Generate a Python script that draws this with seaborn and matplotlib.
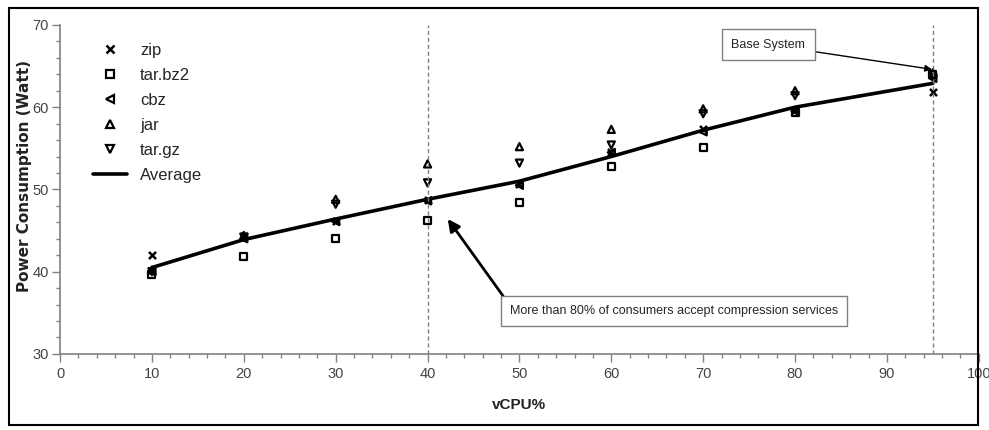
import numpy as np
import pandas as pd
import matplotlib.pyplot as plt
import seaborn as sns
from matplotlib import font_manager
from matplotlib.patches import Rectangle
from matplotlib.lines import Line2D

vcpu = [10, 20, 30, 40, 50, 60, 70, 80, 95]
zip_w = [42.0, 44.3, 46.2, 48.7, 50.6, 54.6, 57.3, 59.6, 61.8]
tar_bz2 = [39.6, 41.8, 44.0, 46.2, 48.4, 52.8, 55.1, 59.3, 64.0]
cbz = [40.0, 44.0, 46.1, 48.6, 50.5, 54.5, 57.0, 59.5, 63.5]
jar = [40.2, 44.4, 48.8, 53.1, 55.2, 57.3, 59.8, 62.0, 64.2]
tar_gz = [40.0, 44.2, 48.2, 50.8, 53.2, 55.4, 59.2, 61.4, 63.6]
average = [40.5, 43.9, 46.4, 48.8, 51.0, 54.0, 57.2, 60.0, 62.9]

series = {"zip": zip_w, "tar.bz2": tar_bz2, "cbz": cbz, "jar": jar, "tar.gz": tar_gz}
marker_map = {"zip": "x", "tar.bz2": "s", "cbz": "<", "jar": "^", "tar.gz": "v"}

rows = []
for name, vals in series.items():
    for x, y in zip(vcpu, vals):
        rows.append({"vcpu": x, "power": y, "format": name})
df = pd.DataFrame(rows)

sns.set_style("white")
installed = {f.name for f in font_manager.fontManager.ttflist}
if "Liberation Sans Narrow" in installed:
    plt.rcParams["font.family"] = ["Liberation Sans Narrow", "DejaVu Sans"]
    fs = 10.5
else:
    plt.rcParams["font.family"] = ["Liberation Sans", "DejaVu Sans"]
    fs = 9

fig = plt.figure(figsize=(9.89, 4.3), dpi=100)
ax = fig.add_axes([0.0607, 0.177, 0.929, 0.765])

handles = []
for name in series:
    sub = df[df["format"] == name]
    m = marker_map[name]
    if m == "x":
        sns.scatterplot(data=sub, x="vcpu", y="power", marker="x", color="black",
                        s=26, linewidth=1.8, ax=ax)
        handles.append(Line2D([], [], marker="x", ls="", color="black", ms=5.5, mew=1.8))
    else:
        sns.scatterplot(data=sub, x="vcpu", y="power", marker=m, facecolors="none",
                        edgecolor="black", s=26, linewidth=1.6, ax=ax)
        handles.append(Line2D([], [], marker=m, ls="", mfc="none", mec="black", ms=5.5, mew=1.6))

sns.lineplot(x=vcpu, y=average, color="black", linewidth=2.6, ax=ax)
handles.append(Line2D([], [], color="black", lw=2.6))
labels = list(series.keys()) + ["Average"]

ax.legend(handles, labels, loc="upper left", bbox_to_anchor=(0.02, 0.99), frameon=False,
          fontsize=fs + 3, handlelength=2.0, handletextpad=0.8, labelspacing=0.6)

ax.axvline(40, color="gray", ls=(0, (3, 2)), lw=1)
ax.axvline(95, color="gray", ls=(0, (3, 2)), lw=1)

ax.set_xlim(0, 100)
ax.set_ylim(30, 70)
ax.set_xticks(np.arange(0, 101, 10))
ax.set_yticks(np.arange(30, 71, 10))
ax.set_xticks(np.arange(0, 101, 2), minor=True)
ax.set_yticks(np.arange(30, 71, 2), minor=True)
ax.tick_params(axis="both", which="major", direction="out", length=6, width=1,
               color="gray", labelsize=fs + 1.5, labelcolor="#444444", bottom=True, left=True)
ax.tick_params(axis="y", which="major", pad=2)
ax.tick_params(axis="both", which="minor", direction="out", length=3, width=1,
               color="gray", bottom=True, left=True)
for s in ["top", "right"]:
    ax.spines[s].set_visible(False)
for s in ["left", "bottom"]:
    ax.spines[s].set_color("gray")
    ax.spines[s].set_linewidth(1.2)

ax.set_xlabel("vCPU%", fontsize=fs + 2, fontweight="bold", color="#222222", labelpad=12)
ax.set_ylabel("Power Consumption (Watt)", fontsize=11, fontweight="bold",
              color="#222222", family="DejaVu Sans")
ax.yaxis.set_label_coords(-0.030, 0.54)

ax.annotate("Base System", xy=(94.9, 64.6), xytext=(77.1, 67.6), ha="center", va="center",
            fontsize=fs,
            bbox=dict(boxstyle="square,pad=0.75", fc="white", ec="gray", lw=1),
            arrowprops=dict(arrowstyle="-|>", color="black", lw=1, mutation_scale=10,
                            shrinkA=0, shrinkB=0))
ax.annotate("More than 80% of consumers accept compression services", xy=(42.2, 46.4),
            xytext=(66.8, 35.2), ha="center", va="center", fontsize=fs,
            bbox=dict(boxstyle="square,pad=0.7", fc="white", ec="gray", lw=1),
            arrowprops=dict(arrowstyle="-|>", color="black", lw=2, mutation_scale=18,
                            shrinkA=0, shrinkB=0, relpos=(0, 1)))

fig.patches.append(Rectangle((0.009, 0.012), 0.98, 0.97, transform=fig.transFigure,
                             fill=False, ec="black", lw=1.5))

fig.savefig("out.png", dpi=100)
